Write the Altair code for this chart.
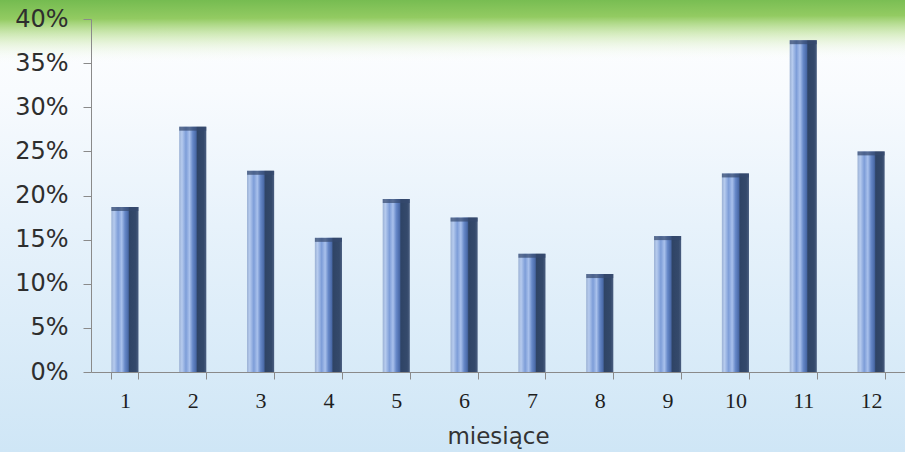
import altair as alt
import pandas as pd

# Monthly share values (fraction of total)
months = ["1", "2", "3", "4", "5", "6", "7", "8", "9", "10", "11", "12"]
shares = [0.187, 0.278, 0.228, 0.152, 0.196, 0.175, 0.134, 0.111, 0.154, 0.225, 0.376, 0.250]
y_ticks = [0.0, 0.05, 0.10, 0.15, 0.20, 0.25, 0.30, 0.35, 0.40]

df = pd.DataFrame({"miesiac": months, "udzial": shares})

W, H = 814, 353
PAD_L, PAD_T, PAD_B = 91, 19, 80

# Backdrop: pale sky gradient across the whole canvas
sky = alt.Gradient(
    gradient="linear", x1=0, x2=0, y1=0, y2=1,
    stops=[
        alt.GradientStop(offset=0.0, color="#ffffff"),
        alt.GradientStop(offset=0.2, color="#f8fbfe"),
        alt.GradientStop(offset=0.5, color="#e7f2fb"),
        alt.GradientStop(offset=1.0, color="#cfe6f6"),
    ],
)
# Green band along the top edge, reaching lower on the left
leaf = alt.Gradient(
    gradient="linear", x1=0, x2=0.06, y1=0, y2=1,
    stops=[
        alt.GradientStop(offset=0.0, color="#74bb50"),
        alt.GradientStop(offset=0.3, color="#93cb62"),
        alt.GradientStop(offset=0.6, color="rgba(186,224,145,0.5)"),
        alt.GradientStop(offset=1.0, color="rgba(255,255,255,0)"),
    ],
)
# Cylinder-like shading for the columns
column_fill = alt.Gradient(
    gradient="linear", x1=0, x2=1, y1=0, y2=0,
    stops=[
        alt.GradientStop(offset=0.0, color="#9bb1d4"),
        alt.GradientStop(offset=0.1, color="#b6cbee"),
        alt.GradientStop(offset=0.25, color="#7d9dd8"),
        alt.GradientStop(offset=0.38, color="#a9c1ec"),
        alt.GradientStop(offset=0.5, color="#6688c8"),
        alt.GradientStop(offset=0.62, color="#4a6aa8"),
        alt.GradientStop(offset=0.67, color="#2f4466"),
        alt.GradientStop(offset=0.9, color="#34496b"),
        alt.GradientStop(offset=1.0, color="#4a5e80"),
    ],
)

one = pd.DataFrame({"k": [0]})
backdrop = alt.Chart(one).mark_rect(color=sky).encode(
    x=alt.value(-PAD_L), x2=alt.value(W), y=alt.value(-PAD_T), y2=alt.value(H + PAD_B)
)
band = alt.Chart(one).mark_rect(color=leaf).encode(
    x=alt.value(-PAD_L), x2=alt.value(W), y=alt.value(-PAD_T), y2=alt.value(45)
)

x_enc = alt.X(
    "miesiac:N", sort=months, title="miesiące",
    scale=alt.Scale(paddingInner=0.6, paddingOuter=0.3),
    axis=alt.Axis(
        labelAngle=0, labelFont="Liberation Serif", labelFontSize=22, labelColor="#1e1e1e",
        labelPadding=11, tickBand="extent", tickSize=7, tickColor="#8a8a8a",
        domainColor="#8a8a8a", titleFont="DejaVu Sans", titleFontSize=23,
        titleFontWeight="normal", titleColor="#333333", titlePadding=14, grid=False,
        zindex=2,
    ),
)
y_enc = alt.Y(
    "udzial:Q", title=None,
    scale=alt.Scale(domain=[0, 0.4], nice=False),
    axis=alt.Axis(
        values=y_ticks, format=".0%", labelFont="DejaVu Sans", labelFontSize=24,
        labelColor="#2e2e2e", labelPadding=15, tickSize=8, tickColor="#8a8a8a",
        domainColor="#8a8a8a", grid=False, zindex=2,
    ),
)

bars = alt.Chart(df).mark_bar(color=column_fill).encode(x=x_enc, y=y_enc)
caps = alt.Chart(df).mark_tick(color="#34496d", thickness=4, size=27, yOffset=2).encode(
    x=alt.X("miesiac:N", sort=months), y="udzial:Q"
)

chart = (
    alt.layer(backdrop, band, bars, caps)
    .properties(
        width=W, height=H,
        autosize=alt.AutoSizeParams(type="none"),
        padding={"left": PAD_L, "top": PAD_T, "right": 0, "bottom": PAD_B},
    )
    .configure_view(stroke=None)
    .configure(background="#d4e9f7")
)

chart.save("out.html", embed_options={"renderer": "svg", "actions": False})
